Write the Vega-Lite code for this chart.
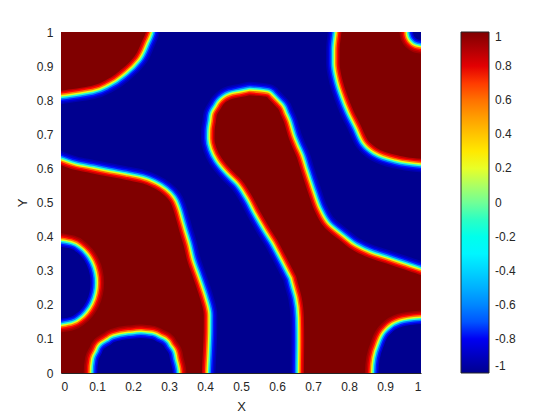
{
  "$schema": "https://vega.github.io/schema/vega-lite/v6.json",
  "width": 360,
  "height": 341,
  "autosize": {"type": "none"},
  "padding": {"left": 61, "top": 32, "right": 139, "bottom": 47},
  "background": "white",
  "config": {
    "view": {"stroke": null},
    "font": "Liberation Sans",
    "axis": {"grid": false, "ticks": false, "domainColor": "#262626", "domainWidth": 1, "labelColor": "#262626", "titleColor": "#262626", "labelFontSize": 12, "titleFontSize": 13, "titleFontWeight": "normal", "zindex": 1, "format": "~g", "labelPadding": 8},
    "axisX": {"values": [0, 0.2, 0.4, 0.6, 0.8, 1], "titlePadding": 8},
    "axisY": {"values": [0, 0.1, 0.2, 0.3, 0.4, 0.5, 0.6, 0.7, 0.8, 0.9, 1], "titlePadding": 7}
  },
  "datasets": {
    "bg": [{"x": 0, "x2": 1, "y": 0, "y2": 1, "v": -1}],
    "red": [
      {"s": "A", "y": 0.811, "a": -0.1, "b": -0.1},
      {"s": "A", "y": 0.828, "a": -0.1, "b": 0.0},
      {"s": "A", "y": 0.842, "a": -0.1, "b": 0.084},
      {"s": "A", "y": 0.860, "a": -0.1, "b": 0.1265},
      {"s": "A", "y": 0.892, "a": -0.1, "b": 0.170},
      {"s": "A", "y": 0.928, "a": -0.1, "b": 0.204},
      {"s": "A", "y": 0.974, "a": -0.1, "b": 0.2255},
      {"s": "A", "y": 1.0, "a": -0.1, "b": 0.236},
      {"s": "A", "y": 1.1, "a": -0.1, "b": 0.25},
      {"s": "B", "y": 0.622, "a": 1.1, "b": 1.1},
      {"s": "B", "y": 0.624, "a": 1.05, "b": 1.1},
      {"s": "B", "y": 0.628, "a": 1.0, "b": 1.1},
      {"s": "B", "y": 0.633, "a": 0.96, "b": 1.1},
      {"s": "B", "y": 0.640, "a": 0.928, "b": 1.1},
      {"s": "B", "y": 0.649, "a": 0.899, "b": 1.1},
      {"s": "B", "y": 0.660, "a": 0.877, "b": 1.1},
      {"s": "B", "y": 0.672, "a": 0.862, "b": 1.1},
      {"s": "B", "y": 0.685, "a": 0.851, "b": 1.1},
      {"s": "B", "y": 0.700, "a": 0.8435, "b": 1.1},
      {"s": "B", "y": 0.721, "a": 0.835, "b": 1.1},
      {"s": "B", "y": 0.770, "a": 0.812, "b": 1.1},
      {"s": "B", "y": 0.815, "a": 0.795, "b": 1.1},
      {"s": "B", "y": 0.863, "a": 0.781, "b": 1.1},
      {"s": "B", "y": 0.909, "a": 0.774, "b": 1.1},
      {"s": "B", "y": 0.947, "a": 0.774, "b": 1.1},
      {"s": "B", "y": 1.0, "a": 0.779, "b": 1.1},
      {"s": "B", "y": 1.1, "a": 0.79, "b": 1.1},
      {"s": "C", "y": -0.1, "a": -0.1, "b": 0.390},
      {"s": "C", "y": 0.0, "a": -0.1, "b": 0.3914},
      {"s": "C", "y": 0.065, "a": -0.1, "b": 0.3944},
      {"s": "C", "y": 0.122, "a": -0.1, "b": 0.3964},
      {"s": "C", "y": 0.169, "a": -0.1, "b": 0.3967},
      {"s": "C", "y": 0.216, "a": -0.1, "b": 0.3869},
      {"s": "C", "y": 0.273, "a": -0.1, "b": 0.3692},
      {"s": "C", "y": 0.329, "a": -0.1, "b": 0.3508},
      {"s": "C", "y": 0.374, "a": -0.1, "b": 0.3408},
      {"s": "C", "y": 0.416, "a": -0.1, "b": 0.329},
      {"s": "C", "y": 0.450, "a": -0.1, "b": 0.320},
      {"s": "C", "y": 0.479, "a": -0.1, "b": 0.312},
      {"s": "C", "y": 0.505, "a": -0.1, "b": 0.301},
      {"s": "C", "y": 0.526, "a": -0.1, "b": 0.2819},
      {"s": "C", "y": 0.543, "a": -0.1, "b": 0.2564},
      {"s": "C", "y": 0.557, "a": -0.1, "b": 0.2225},
      {"s": "C", "y": 0.567, "a": -0.1, "b": 0.1778},
      {"s": "C", "y": 0.576, "a": -0.1, "b": 0.1317},
      {"s": "C", "y": 0.586, "a": -0.1, "b": 0.0847},
      {"s": "C", "y": 0.596, "a": -0.1, "b": 0.0375},
      {"s": "C", "y": 0.611, "a": -0.1, "b": -0.005},
      {"s": "C", "y": 0.640, "a": -0.1, "b": -0.1},
      {"s": "D", "y": -0.1, "a": 0.6747, "b": 1.1},
      {"s": "D", "y": 0.0, "a": 0.6747, "b": 1.1},
      {"s": "D", "y": 0.093, "a": 0.6756, "b": 1.1},
      {"s": "D", "y": 0.1622, "a": 0.6747, "b": 1.1},
      {"s": "D", "y": 0.2232, "a": 0.6683, "b": 1.1},
      {"s": "D", "y": 0.26, "a": 0.6589, "b": 1.1},
      {"s": "D", "y": 0.2727, "a": 0.6557, "b": 1.0514},
      {"s": "D", "y": 0.2853, "a": 0.6525, "b": 1.0079},
      {"s": "D", "y": 0.2891, "a": 0.6506, "b": 0.9947},
      {"s": "D", "y": 0.3032, "a": 0.6437, "b": 0.9547},
      {"s": "D", "y": 0.3202, "a": 0.6355, "b": 0.9067},
      {"s": "D", "y": 0.3387, "a": 0.6264, "b": 0.8539},
      {"s": "D", "y": 0.3601, "a": 0.6158, "b": 0.8114},
      {"s": "D", "y": 0.3891, "a": 0.6011, "b": 0.7747},
      {"s": "D", "y": 0.4255, "a": 0.5796, "b": 0.7333},
      {"s": "D", "y": 0.4745, "a": 0.5528, "b": 0.7051},
      {"s": "D", "y": 0.5235, "a": 0.5283, "b": 0.6882},
      {"s": "D", "y": 0.5654, "a": 0.5020, "b": 0.6751},
      {"s": "D", "y": 0.5959, "a": 0.4730, "b": 0.6658},
      {"s": "D", "y": 0.632, "a": 0.4453, "b": 0.6554},
      {"s": "D", "y": 0.6616, "a": 0.4314, "b": 0.6431},
      {"s": "D", "y": 0.6874, "a": 0.4263, "b": 0.6331},
      {"s": "D", "y": 0.7114, "a": 0.4267, "b": 0.6263},
      {"s": "D", "y": 0.7358, "a": 0.43, "b": 0.6194},
      {"s": "D", "y": 0.7563, "a": 0.4328, "b": 0.6107},
      {"s": "D", "y": 0.7757, "a": 0.4437, "b": 0.6025},
      {"s": "D", "y": 0.7839, "a": 0.4483, "b": 0.5949},
      {"s": "D", "y": 0.8035, "a": 0.4742, "b": 0.5769},
      {"s": "D", "y": 0.8091, "a": 0.4997, "b": 0.5717},
      {"s": "D", "y": 0.8144, "a": 0.5239, "b": 0.5239}
    ],
    "holes": [
      {"s": "LB", "y": 0.1592, "a": 0, "b": 0},
      {"s": "LB", "y": 0.1645, "a": -0.0257, "b": 0.0257},
      {"s": "LB", "y": 0.1750, "a": -0.0433, "b": 0.0433},
      {"s": "LB", "y": 0.1909, "a": -0.0587, "b": 0.0587},
      {"s": "LB", "y": 0.2120, "a": -0.0712, "b": 0.0712},
      {"s": "LB", "y": 0.2384, "a": -0.0796, "b": 0.0796},
      {"s": "LB", "y": 0.2648, "a": -0.0822, "b": 0.0822},
      {"s": "LB", "y": 0.2912, "a": -0.0796, "b": 0.0796},
      {"s": "LB", "y": 0.3176, "a": -0.0712, "b": 0.0712},
      {"s": "LB", "y": 0.3387, "a": -0.0587, "b": 0.0587},
      {"s": "LB", "y": 0.3546, "a": -0.0433, "b": 0.0433},
      {"s": "LB", "y": 0.3651, "a": -0.0257, "b": 0.0257},
      {"s": "LB", "y": 0.3704, "a": 0, "b": 0},
      {"s": "BB", "y": -0.05, "a": 0.102, "b": 0.309},
      {"s": "BB", "y": 0.0, "a": 0.1006, "b": 0.3107},
      {"s": "BB", "y": 0.039, "a": 0.1042, "b": 0.3031},
      {"s": "BB", "y": 0.0575, "a": 0.1129, "b": 0.2994},
      {"s": "BB", "y": 0.071, "a": 0.1192, "b": 0.2903},
      {"s": "BB", "y": 0.0845, "a": 0.1393, "b": 0.2811},
      {"s": "BB", "y": 0.0915, "a": 0.1497, "b": 0.2674},
      {"s": "BB", "y": 0.0997, "a": 0.189, "b": 0.2514},
      {"s": "BB", "y": 0.103, "a": 0.222, "b": 0.222},
      {"s": "BR", "y": -0.05, "a": 0.881, "b": 1.1},
      {"s": "BR", "y": 0.0, "a": 0.8817, "b": 1.1},
      {"s": "BR", "y": 0.0408, "a": 0.8853, "b": 1.1},
      {"s": "BR", "y": 0.076, "a": 0.8953, "b": 1.1},
      {"s": "BR", "y": 0.115, "a": 0.9153, "b": 1.1},
      {"s": "BR", "y": 0.1352, "a": 0.9453, "b": 1.1},
      {"s": "BR", "y": 0.1437, "a": 1.0025, "b": 1.1},
      {"s": "BR", "y": 0.147, "a": 1.1, "b": 1.1},
      {"s": "TR", "y": 0.9765, "a": 1.0, "b": 1.0},
      {"s": "TR", "y": 0.9789, "a": 0.9903, "b": 1.0097},
      {"s": "TR", "y": 0.98355, "a": 0.9841, "b": 1.0159},
      {"s": "TR", "y": 0.9906, "a": 0.9796, "b": 1.0204},
      {"s": "TR", "y": 1.0, "a": 0.9778, "b": 1.0222},
      {"s": "TR", "y": 1.0094, "a": 0.9796, "b": 1.0204},
      {"s": "TR", "y": 1.01645, "a": 0.9841, "b": 1.0159},
      {"s": "TR", "y": 1.0211, "a": 0.9903, "b": 1.0097},
      {"s": "TR", "y": 1.0235, "a": 1.0, "b": 1.0}
    ]
  },
  "layer": [
    {
      "data": {"name": "bg"},
      "mark": {"type": "rect"},
      "encoding": {
        "x": {"field": "x", "type": "quantitative", "title": "X", "scale": {"domain": [0, 1], "nice": false, "zero": false}},
        "x2": {"field": "x2"},
        "y": {"field": "y", "type": "quantitative", "title": "Y", "scale": {"domain": [0, 1], "nice": false, "zero": false}},
        "y2": {"field": "y2"},
        "color": {
          "field": "v", "type": "quantitative",
          "scale": {"type": "linear", "domain": [-1, -0.778, -0.27, 0.238, 0.746, 1], "range": ["#00008F", "#0000FF", "#00FFFF", "#FFFF00", "#FF0000", "#800000"]},
          "legend": {"orient": "right", "offset": 40, "title": null, "direction": "vertical", "gradientLength": 341, "gradientThickness": 28, "values": [-1, -0.8, -0.6, -0.4, -0.2, 0, 0.2, 0.4, 0.6, 0.8, 1], "format": "~g", "labelExpr": "replace(datum.label, '\u2212', '-')", "labelFontSize": 12, "labelColor": "#262626", "labelOffset": 6, "labelOverlap": false, "gradientStrokeColor": "#262626", "gradientStrokeWidth": 1, "padding": 0}
        }
      }
    },
    {
      "data": {"name": "red"},
      "encoding": {
        "y": {"field": "y", "type": "quantitative", "title": "Y", "scale": {"domain": [0, 1], "nice": false, "zero": false}},
        "x": {"field": "a", "type": "quantitative", "title": "X", "scale": {"domain": [0, 1], "nice": false, "zero": false}},
        "x2": {"field": "b"},
        "detail": {"field": "s"}
      },
      "layer": [
        {"mark": {"type": "area", "orient": "horizontal", "interpolate": "monotone", "clip": true, "opacity": 1, "fill": "#0000B0", "stroke": "#0000B0", "strokeWidth": 27, "strokeJoin": "round"}},
        {"mark": {"type": "area", "orient": "horizontal", "interpolate": "monotone", "clip": true, "opacity": 1, "fill": "#0000D4", "stroke": "#0000D4", "strokeWidth": 24, "strokeJoin": "round"}},
        {"mark": {"type": "area", "orient": "horizontal", "interpolate": "monotone", "clip": true, "opacity": 1, "fill": "#0016FF", "stroke": "#0016FF", "strokeWidth": 21, "strokeJoin": "round"}},
        {"mark": {"type": "area", "orient": "horizontal", "interpolate": "monotone", "clip": true, "opacity": 1, "fill": "#0087FF", "stroke": "#0087FF", "strokeWidth": 18, "strokeJoin": "round"}},
        {"mark": {"type": "area", "orient": "horizontal", "interpolate": "monotone", "clip": true, "opacity": 1, "fill": "#2BFFD4", "stroke": "#2BFFD4", "strokeWidth": 15, "strokeJoin": "round"}},
        {"mark": {"type": "area", "orient": "horizontal", "interpolate": "monotone", "clip": true, "opacity": 1, "fill": "#E4FF1B", "stroke": "#E4FF1B", "strokeWidth": 12, "strokeJoin": "round"}},
        {"mark": {"type": "area", "orient": "horizontal", "interpolate": "monotone", "clip": true, "opacity": 1, "fill": "#FF7600", "stroke": "#FF7600", "strokeWidth": 9, "strokeJoin": "round"}},
        {"mark": {"type": "area", "orient": "horizontal", "interpolate": "monotone", "clip": true, "opacity": 1, "fill": "#FF0600", "stroke": "#FF0600", "strokeWidth": 6, "strokeJoin": "round"}},
        {"mark": {"type": "area", "orient": "horizontal", "interpolate": "monotone", "clip": true, "opacity": 1, "fill": "#C40000", "stroke": "#C40000", "strokeWidth": 3, "strokeJoin": "round"}},
        {"mark": {"type": "area", "orient": "horizontal", "interpolate": "monotone", "clip": true, "opacity": 1, "fill": "#800000", "strokeWidth": 0}}
      ]
    },
    {
      "data": {"name": "holes"},
      "encoding": {
        "y": {"field": "y", "type": "quantitative", "title": "Y", "scale": {"domain": [0, 1], "nice": false, "zero": false}},
        "x": {"field": "a", "type": "quantitative", "title": "X", "scale": {"domain": [0, 1], "nice": false, "zero": false}},
        "x2": {"field": "b"},
        "detail": {"field": "s"}
      },
      "layer": [
        {"mark": {"type": "area", "orient": "horizontal", "interpolate": "monotone", "clip": true, "opacity": 1, "fill": "#A10000", "stroke": "#A10000", "strokeWidth": 27, "strokeJoin": "round"}},
        {"mark": {"type": "area", "orient": "horizontal", "interpolate": "monotone", "clip": true, "opacity": 1, "fill": "#C40000", "stroke": "#C40000", "strokeWidth": 24, "strokeJoin": "round"}},
        {"mark": {"type": "area", "orient": "horizontal", "interpolate": "monotone", "clip": true, "opacity": 1, "fill": "#FF0600", "stroke": "#FF0600", "strokeWidth": 21, "strokeJoin": "round"}},
        {"mark": {"type": "area", "orient": "horizontal", "interpolate": "monotone", "clip": true, "opacity": 1, "fill": "#FF7600", "stroke": "#FF7600", "strokeWidth": 18, "strokeJoin": "round"}},
        {"mark": {"type": "area", "orient": "horizontal", "interpolate": "monotone", "clip": true, "opacity": 1, "fill": "#E4FF1B", "stroke": "#E4FF1B", "strokeWidth": 15, "strokeJoin": "round"}},
        {"mark": {"type": "area", "orient": "horizontal", "interpolate": "monotone", "clip": true, "opacity": 1, "fill": "#2BFFD4", "stroke": "#2BFFD4", "strokeWidth": 12, "strokeJoin": "round"}},
        {"mark": {"type": "area", "orient": "horizontal", "interpolate": "monotone", "clip": true, "opacity": 1, "fill": "#0087FF", "stroke": "#0087FF", "strokeWidth": 9, "strokeJoin": "round"}},
        {"mark": {"type": "area", "orient": "horizontal", "interpolate": "monotone", "clip": true, "opacity": 1, "fill": "#0016FF", "stroke": "#0016FF", "strokeWidth": 6, "strokeJoin": "round"}},
        {"mark": {"type": "area", "orient": "horizontal", "interpolate": "monotone", "clip": true, "opacity": 1, "fill": "#0000D4", "stroke": "#0000D4", "strokeWidth": 3, "strokeJoin": "round"}},
        {"mark": {"type": "area", "orient": "horizontal", "interpolate": "monotone", "clip": true, "opacity": 1, "fill": "#00008F", "strokeWidth": 0}}
      ]
    }
  ]
}
